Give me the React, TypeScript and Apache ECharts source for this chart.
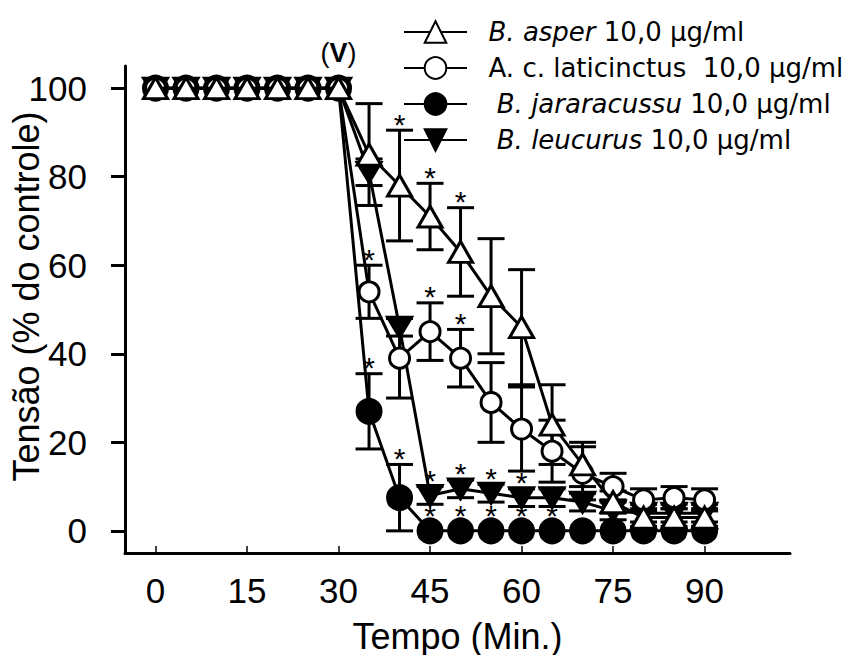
import React, { useEffect, useRef } from "react";
import * as echarts from "echarts";

const FONT = "'Liberation Sans', Arial, Helvetica, sans-serif";
const LEGEND_FONT = "'DejaVu Sans', 'Liberation Sans', Arial, sans-serif";

const times = [0, 5, 10, 15, 20, 25, 30, 35, 40, 45, 50, 55, 60, 65, 70, 75, 80, 85, 90];

const asperMean = [100, 100, 100, 100, 100, 100, 100, 85, 78, 71, 63, 53, 46, 24, 15, 6.5, 3, 3, 3];
const asperErr = [0, 0, 0, 0, 0, 0, 0, 11.5, 12.5, 7.5, 10, 13, 13, 9, 5, 2.5, 2, 2, 2];

const laticMean = [100, 100, 100, 100, 100, 100, 100, 54, 39, 45, 39, 29, 23, 18, 13, 10, 7, 7.5, 7];
const laticErr = [0, 0, 0, 0, 0, 0, 0, 6, 9, 6.5, 6.5, 9, 9.5, 7, 6, 3, 2.5, 2.5, 2.5];

const jararMean = [100, 100, 100, 100, 100, 100, 100, 27, 7.5, 0, 0, 0, 0, 0, 0, 0, 0, 0, 0];
const jararErr = [0, 0, 0, 0, 0, 0, 0, 8.5, 7.5, 0, 0, 0, 0, 0, 0, 0, 0, 0, 0];

const leucMean = [100, 100, 100, 100, 100, 100, 100, 81, 46, 8, 9.5, 8.5, 7.5, 7.5, 6.5, 4.5, 4, 4, 4];
const leucErr = [0, 0, 0, 0, 0, 0, 0, 3, 2, 2, 2, 2, 2, 2, 2, 2, 2, 2, 2];

const asperSig = [40, 45, 50];
const laticSig = [35, 45, 50];
const jararSig = [35, 40, 45, 50, 55, 60, 65];
const leucSig = [45, 50, 55, 60];

const xTicks = [0, 15, 30, 45, 60, 75, 90];
const yTicks = [0, 20, 40, 60, 80, 100];

const names = [
  "B. asper 10,0 μg/ml",
  "A. c. laticinctus  10,0 μg/ml",
  "B. jararacussu 10,0 μg/ml",
  "B. leucurus 10,0 μg/ml",
];
const legendLabels: Record<string, string> = {
  [names[0]]: "  {i|B. asper} 10,0 μg/ml",
  [names[1]]: "  A. c. laticinctus  10,0 μg/ml",
  [names[2]]: "   {i|B. jararacussu} 10,0 μg/ml",
  [names[3]]: "   {i|B. leucurus} 10,0 μg/ml",
};

function errorSeries(mean: number[], err: number[], z: number) {
  return {
    type: "custom",
    silent: true,
    z,
    data: times.map((t, i) => [t, mean[i], err[i]]),
    encode: { x: 0, y: 1 },
    renderItem: (_p: any, api: any) => {
      const t = api.value(0);
      const m = api.value(1);
      const e = api.value(2);
      if (!e) return { type: "group", children: [] };
      const top = api.coord([t, m + e]);
      const bot = api.coord([t, m - e]);
      const hw = 13.5;
      const style = { stroke: "#000", lineWidth: 3, fill: null };
      return {
        type: "group",
        children: [
          { type: "line", shape: { x1: top[0], y1: top[1], x2: bot[0], y2: bot[1] }, style },
          { type: "line", shape: { x1: top[0] - hw, y1: top[1], x2: top[0] + hw, y2: top[1] }, style },
          { type: "line", shape: { x1: bot[0] - hw, y1: bot[1], x2: bot[0] + hw, y2: bot[1] }, style },
        ],
      };
    },
  };
}

function starSeries(sig: number[], mean: number[], err: number[]) {
  return {
    type: "custom",
    silent: true,
    z: 10,
    data: sig.map((t) => {
      const i = times.indexOf(t);
      return [t, mean[i], err[i]];
    }),
    encode: { x: 0, y: 1 },
    renderItem: (_p: any, api: any) => {
      const t = api.value(0);
      const m = api.value(1);
      const e = api.value(2);
      const cap = api.coord([t, m + e]);
      const pt = api.coord([t, m]);
      const gy = Math.min(cap[1] - 12, pt[1] - 21);
      return {
        type: "text",
        x: cap[0],
        y: gy + 6,
        style: {
          text: "*",
          fontSize: 30,
          fontFamily: FONT,
          fill: "#000",
          align: "center",
          textAlign: "center",
          verticalAlign: "middle",
          textVerticalAlign: "middle",
        },
      };
    },
  };
}

function lineSeries(name: string, mean: number[], symbol: string, size: any, fill: string, z: number, rotate = 0) {
  return {
    type: "line",
    name,
    z,
    data: times.map((t, i) => [t, mean[i]]),
    symbol,
    symbolSize: size,
    symbolRotate: rotate,
    showSymbol: true,
    showAllSymbol: true,
    silent: true,
    lineStyle: { color: "#000", width: 3 },
    itemStyle: { color: fill, borderColor: "#000", borderWidth: 3 },
    emphasis: { disabled: true },
  };
}

export default function App() {
  const ref = useRef<HTMLDivElement>(null);
  useEffect(() => {
    if (!ref.current) return;
    const chart = echarts.init(ref.current, undefined, { renderer: "svg" });
    const option: any = {
      animation: false,
      backgroundColor: "#fff",
      grid: { left: 125, right: 57, top: 66, bottom: 102, containLabel: false, outerBoundsMode: "none" },
      legend: {
        show: true,
        orient: "vertical",
        left: 403,
        top: 17,
        data: names,
        itemWidth: 63,
        itemHeight: 27,
        itemGap: 6,
        padding: 0,
        selectedMode: false,
        formatter: (n: string) => legendLabels[n] || n,
        textStyle: {
          fontSize: 26,
          fontFamily: LEGEND_FONT,
          color: "#000",
          lineHeight: 30,
          rich: {
            i: { fontStyle: "italic", fontSize: 26, fontFamily: LEGEND_FONT, color: "#000", lineHeight: 30 },
          },
        },
      },
      xAxis: {
        type: "value",
        min: -5,
        max: 104,
        name: "Tempo (Min.)",
        nameLocation: "middle",
        nameGap: 65,
        nameMoveOverlap: false,
        nameTextStyle: { fontSize: 36, fontFamily: FONT, color: "#000" },
        splitLine: { show: false },
        axisLine: { show: true, onZero: false, lineStyle: { color: "#000", width: 3 } },
        axisTick: { show: true, inside: true, length: 7, customValues: xTicks, lineStyle: { color: "#000", width: 1.5 } },
        axisLabel: { show: true, customValues: xTicks, margin: 20, fontSize: 35, fontFamily: FONT, color: "#000" },
      },
      yAxis: {
        type: "value",
        min: -5,
        max: 105,
        name: "Tensão (% do controle)",
        nameLocation: "middle",
        nameGap: 81,
        nameMoveOverlap: false,
        nameTextStyle: { fontSize: 36, fontFamily: FONT, color: "#000", padding: [0, 0, 0, 26] },
        splitLine: { show: false },
        axisLine: { show: true, onZero: false, lineStyle: { color: "#000", width: 3 } },
        axisTick: { show: true, inside: false, length: 14, customValues: yTicks, lineStyle: { color: "#000", width: 3 } },
        axisLabel: { show: true, customValues: yTicks, margin: 38, fontSize: 35, fontFamily: FONT, color: "#000" },
      },
      series: [
        errorSeries(jararMean, jararErr, 1),
        errorSeries(leucMean, leucErr, 1),
        errorSeries(laticMean, laticErr, 1),
        errorSeries(asperMean, asperErr, 1),
        lineSeries(names[2], jararMean, "circle", 24, "#000", 3),
        lineSeries(names[3], leucMean, "triangle", [24, 20], "#000", 3, 180),
        lineSeries(names[1], laticMean, "circle", 20, "#fff", 4),
        {
          ...lineSeries(names[0], asperMean, "triangle", [24, 21], "#fff", 5),
          markPoint: {
            silent: true,
            symbol: "circle",
            symbolSize: 1,
            itemStyle: { color: "rgba(0,0,0,0)", borderWidth: 0 },
            data: [{ coord: [30, 100] }],
            label: {
              show: true,
              position: "inside",
              offset: [0, -35],
              formatter: "{a|(}{b|V}{a|)}",
              rich: {
                a: { fontSize: 27, fontFamily: FONT, color: "#000" },
                b: { fontSize: 27, fontFamily: FONT, color: "#000", fontWeight: "bold" },
              },
            },
          },
        },
        starSeries(asperSig, asperMean, asperErr),
        starSeries(laticSig, laticMean, laticErr),
        starSeries(jararSig, jararMean, jararErr),
        starSeries(leucSig, leucMean, leucErr),
      ],
    };
    chart.setOption(option);
    return () => chart.dispose();
  }, []);
  return <div ref={ref} style={{ position: "absolute", left: 0, top: 0, width: 847, height: 655 }} />;
}
